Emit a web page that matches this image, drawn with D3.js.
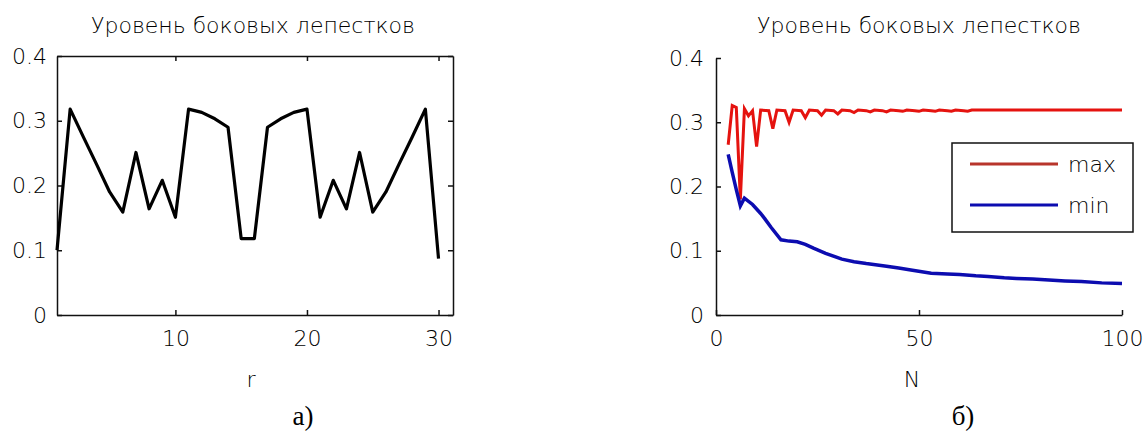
<!DOCTYPE html>
<html>
<head>
<meta charset="utf-8">
<script src="https://cdn.jsdelivr.net/npm/d3@7"></script>
<style>
  body { margin: 0; background: #fff; }
  svg text { font-family: "DejaVu Sans", sans-serif; font-weight: 200; fill: #000; }
  .axis path, .axis line { stroke: #111; stroke-width: 1.5; }
  .caption { font-family: "Liberation Serif", "Times New Roman", serif !important; font-weight: 400 !important; fill: #000 !important; }
</style>
</head>
<body>
<svg id="chart" width="1146" height="431"></svg>
<script>
// а) уровень боковых лепестков по r
const rValues = d3.range(1, 31);
const levelR = [0.100, 0.318, 0.275, 0.233, 0.190, 0.159, 0.251, 0.164, 0.208, 0.151,
                0.318, 0.313, 0.303, 0.290, 0.118, 0.118, 0.290, 0.303, 0.313, 0.318,
                0.151, 0.208, 0.164, 0.251, 0.159, 0.190, 0.233, 0.275, 0.318, 0.087];

// б) max / min по N
const nMax = [3, 4, 5, 6, 7, 8, 9, 10, 11, 13, 14, 15, 17, 18, 19, 21, 22, 23, 25, 26, 27,
              29, 30, 31, 33, 34, 35, 37, 38, 39, 41, 42, 43, 45, 46, 47, 49, 50, 51, 53, 54, 55,
              57, 58, 59, 61, 62, 63, 100];
const maxVals = [0.265, 0.326, 0.323, 0.180, 0.321, 0.310, 0.318, 0.262, 0.319, 0.318, 0.290, 0.319, 0.318, 0.300, 0.319,
                 0.318, 0.307, 0.319, 0.318, 0.311, 0.319, 0.318, 0.313, 0.319, 0.318, 0.315, 0.319,
                 0.318, 0.316, 0.319, 0.318, 0.316, 0.319, 0.318, 0.317, 0.319, 0.318, 0.317, 0.319,
                 0.318, 0.317, 0.319, 0.318, 0.3172, 0.319, 0.318, 0.3172, 0.319, 0.319];
const nMin = [3, 4, 5, 6, 7, 9, 11, 12, 13.5, 16, 18, 20, 22, 24, 27, 31, 34, 37, 42, 45, 48, 53, 57,
              60, 64, 67, 71, 74, 78, 82, 86, 90, 95, 100];
const minVals = [0.250, 0.222, 0.195, 0.170, 0.182, 0.172, 0.158, 0.150, 0.137, 0.117, 0.115, 0.114, 0.110,
                 0.104, 0.096, 0.087, 0.083, 0.080, 0.076, 0.073, 0.070, 0.065, 0.064, 0.063, 0.061,
                 0.060, 0.058, 0.057, 0.056, 0.0545, 0.053, 0.052, 0.050, 0.049];

const yTicks = [0, 0.1, 0.2, 0.3, 0.4];
const leftXTicks = [10, 20, 30];
const rightXTicks = [0, 50, 100];
const legendLabels = ["max", "min"];
const titleText = "Уровень боковых лепестков";

const svg = d3.select("#chart");

// ---------- левый график ----------
const xL = d3.scaleLinear().domain([1, 31.1]).range([57, 453]);
const yL = d3.scaleLinear().domain([0, 0.4]).range([315, 56]);

svg.append("g").attr("class", "axis")
  .attr("transform", "translate(0,315)")
  .call(d3.axisBottom(xL).tickValues(leftXTicks).tickSizeInner(-5).tickSizeOuter(0).tickPadding(15))
  .call(g => g.selectAll("text").style("font-size", "22px"));
svg.append("g").attr("class", "axis")
  .attr("transform", "translate(0,56)")
  .call(d3.axisTop(xL).tickValues(leftXTicks).tickSizeInner(-5).tickSizeOuter(0).tickFormat(""));
svg.append("g").attr("class", "axis")
  .attr("transform", "translate(57,0)")
  .call(d3.axisLeft(yL).tickValues(yTicks).tickSizeInner(-5).tickSizeOuter(0).tickPadding(10).tickFormat(d => d === 0 ? "0" : d3.format(".1f")(d)))
  .call(g => g.selectAll("text").style("font-size", "22px"));
svg.append("g").attr("class", "axis")
  .attr("transform", "translate(453,0)")
  .call(d3.axisRight(yL).tickValues(yTicks).tickSizeInner(-5).tickSizeOuter(0).tickFormat(""));

svg.append("path")
  .datum(rValues.map((r, i) => [r, levelR[i]]))
  .attr("fill", "none")
  .attr("stroke", "#000")
  .attr("stroke-width", 3.2)
  .attr("stroke-linejoin", "round")
  .attr("d", d3.line().x(d => xL(d[0])).y(d => yL(d[1])));

svg.append("text").attr("x", 253).attr("y", 33).attr("text-anchor", "middle")
  .style("font-size", "22px").text(titleText);
svg.append("text").attr("x", 251).attr("y", 387).attr("text-anchor", "middle")
  .style("font-size", "22px").text("r");
svg.append("text").attr("class", "caption").attr("x", 303).attr("y", 425).attr("text-anchor", "middle")
  .style("font-size", "27px").text("а)");

// ---------- правый график ----------
const xR = d3.scaleLinear().domain([0, 100]).range([716, 1122]);
const yR = d3.scaleLinear().domain([0, 0.4]).range([315, 58]);

svg.append("g").attr("class", "axis")
  .attr("transform", "translate(0,315)")
  .call(d3.axisBottom(xR).tickValues(rightXTicks).tickSizeInner(-5).tickSizeOuter(0).tickPadding(15))
  .call(g => g.selectAll("text").style("font-size", "22px"));
svg.append("g").attr("class", "axis")
  .attr("transform", "translate(716,0)")
  .call(d3.axisLeft(yR).tickValues(yTicks).tickSizeInner(-5).tickSizeOuter(0).tickPadding(12).tickFormat(d => d === 0 ? "0" : d3.format(".1f")(d)))
  .call(g => g.selectAll("text").style("font-size", "22px"));

const lineR = d3.line().x(d => xR(d[0])).y(d => yR(d[1]));
svg.append("path")
  .datum(nMax.map((n, i) => [n, maxVals[i]]))
  .attr("fill", "none").attr("stroke", "#e5130f").attr("stroke-width", 3)
  .attr("d", lineR);
svg.append("path")
  .datum(nMin.map((n, i) => [n, minVals[i]]))
  .attr("fill", "none").attr("stroke", "#0c0cb0").attr("stroke-width", 3.5)
  .attr("d", lineR);

svg.append("text").attr("x", 919).attr("y", 33).attr("text-anchor", "middle")
  .style("font-size", "22px").text(titleText);
svg.append("text").attr("x", 912).attr("y", 387).attr("text-anchor", "middle")
  .style("font-size", "22px").text("N");
svg.append("text").attr("class", "caption").attr("x", 963).attr("y", 425).attr("text-anchor", "middle")
  .style("font-size", "27px").text("б)");

// легенда
const legend = svg.append("g").attr("transform", "translate(952,143)");
legend.append("rect").attr("width", 181).attr("height", 89)
  .attr("fill", "#fff").attr("stroke", "#111").attr("stroke-width", 1.5);
const legendColors = ["#b8352b", "#0c0cb0"];
legendLabels.forEach((lab, i) => {
  const yy = 21 + i * 41;
  legend.append("line").attr("x1", 18).attr("x2", 106).attr("y1", yy).attr("y2", yy)
    .attr("stroke", legendColors[i]).attr("stroke-width", 3);
  legend.append("text").attr("x", 116).attr("y", yy + 8).style("font-size", "22px").text(lab);
});
</script>
</body>
</html>
